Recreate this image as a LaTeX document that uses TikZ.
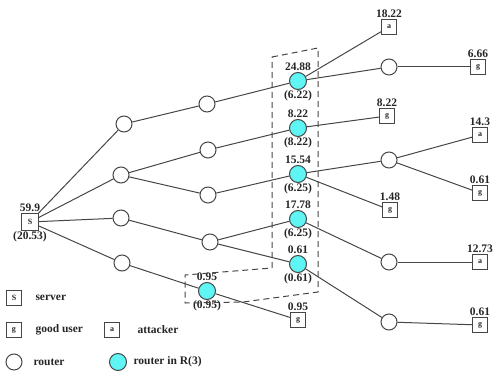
\documentclass[tikz,border=0pt]{standalone}
\usepackage{fontspec}
\setmainfont{Liberation Serif}
\usepackage{tikz}
\usetikzlibrary{positioning}

\definecolor{edgegray}{RGB}{70,70,70}
\definecolor{rcyan}{RGB}{95,245,245}

\begin{document}
\begin{tikzpicture}[x=1pt,y=-1pt,edgegray,line width=1pt,
    router/.style={circle,draw=edgegray,fill=white,minimum size=16pt,inner sep=0pt},
    crouter/.style={router,fill=rcyan,minimum size=17pt},
    leaf/.style={rectangle,draw=edgegray,fill=white,minimum size=15pt,inner sep=0pt,font=\footnotesize\bfseries,text=black!85},
    lbl/.style={font=\fontsize{11.5}{12}\selectfont\bfseries,text=black!85,inner sep=0.5pt},
    lgd/.style={anchor=west,inner sep=0pt,font=\fontsize{11.5}{12}\selectfont\bfseries,text=black!85}]
  \useasboundingbox (0,0) rectangle (495,374);

  % server
  \node[leaf,minimum size=17pt,label={[lbl]above:59.9},label={[lbl]below:(20.53)}] at(30,222)(s){S};

  % first level routers
  \node[router] at(124,124)(r1){};
  \node[router] at(121,175)(r2){};
  \node[router] at(121,218)(r3){};
  \node[router] at(122,263)(r4){};

  % second level routers
  \node[router] at(207,104)(r5){};
  \node[router] at(208,150)(r6){};
  \node[router] at(208,195)(r7){};
  \node[router] at(210,242)(r8){};

  % routers in R(3)
  \node[crouter,label={[lbl]above:24.88},label={[lbl]below:(6.22)}] at(298,81)(c1){};
  \node[crouter,label={[lbl]above:8.22},label={[lbl]below:(8.22)}] at(298,128)(c2){};
  \node[crouter,label={[lbl]above:15.54},label={[lbl]below:(6.25)}] at(298,174)(c3){};
  \node[crouter,label={[lbl]above:17.78},label={[lbl]below:(6.25)}] at(298,219)(c4){};
  \node[crouter,label={[lbl]above:0.61},label={[lbl]below:(0.61)}] at(298,264)(c5){};
  \node[crouter,label={[lbl]above:0.95},label={[lbl]below:(0.95)}] at(207,291)(c6){};

  % last routers
  \node[router] at(389,67)(r9){};
  \node[router] at(389,160)(r10){};
  \node[router] at(389,262)(r11){};
  \node[router] at(389,322)(r12){};

  % users
  \node[leaf,label={[lbl]above:18.22}] at(389,27)(a1){a};
  \node[leaf,label={[lbl]above:6.66}] at(478,67)(g1){g};
  \node[leaf,label={[lbl]above:8.22}] at(387,116)(g2){g};
  \node[leaf,label={[lbl]above:14.3}] at(480,135)(a2){a};
  \node[leaf,label={[lbl]above:0.61}] at(480,193)(g3){g};
  \node[leaf,label={[lbl]above:1.48}] at(390,210)(g4){g};
  \node[leaf,label={[lbl]above:12.73}] at(480,262)(a3){a};
  \node[leaf,label={[lbl]above:0.61}] at(480,325)(g5){g};
  \node[leaf,label={[lbl]above:0.95}] at(298,320)(g6){g};

  \draw (s) -- (r1);
  \draw (s) -- (r2);
  \draw (s) -- (r3);
  \draw (s) -- (r4);

  \draw (r1) -- (r5);
  \draw (r2) -- (r6);
  \draw (r2) -- (r7);
  \draw (r3) -- (r8);
  \draw (r4) -- (c6);
  \draw (c6) -- (g6);

  \draw (r5) -- (c1);
  \draw (r6) -- (c2);
  \draw (r7) -- (c3);
  \draw (r8) -- (c4);
  \draw (r8) -- (c5);

  \draw (c1) -- (a1);
  \draw (c1) -- (r9);
  \draw (r9) -- (g1);
  \draw (c2) -- (g2);
  \draw (c3) -- (r10);
  \draw (c3) -- (g4);
  \draw (r10) -- (a2);
  \draw (r10) -- (g3);
  \draw (c4) -- (r11);
  \draw (r11) -- (a3);
  \draw (c5) -- (r12);
  \draw (r12) -- (g5);

  % region R(3)
  \draw[dash pattern=on 6pt off 4pt] (272,57) -- (318,48) -- (318,292) -- (243,302)
    -- (185,303) -- (185,275) -- (272,268) -- cycle;

  % legend
  \node[leaf] at(14,298)(ls){S};
  \node[lgd] at(35,298)(lst){server};
  \node[leaf] at(14,330)(lg){g};
  \node[lgd] at(35,330)(lgt){good user};
  \node[leaf] at(112,330)(la){a};
  \node[lgd] at(137,330)(lat){attacker};
  \node[router] at(14,362)(lr){};
  \node[lgd] at(33,362)(lrt){router};
  \node[crouter] at(118,362)(lc){};
  \node[lgd] at(133,362)(lct){router in R(3)};
\end{tikzpicture}
\end{document}
